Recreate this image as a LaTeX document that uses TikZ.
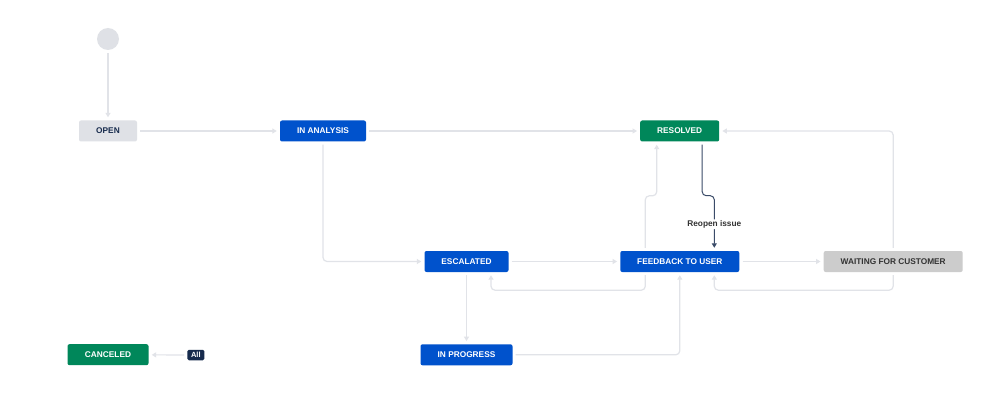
\documentclass[tikz,border=0pt]{standalone}
\usepackage{fontspec}
\setmainfont{Liberation Sans}
\usetikzlibrary{arrows.meta}
\definecolor{jblue}{HTML}{0052CC}
\definecolor{jgreen}{HTML}{00875A}
\definecolor{jlight}{HTML}{DFE1E6}
\definecolor{jgrey}{HTML}{CCCCCC}
\definecolor{jnavy}{HTML}{172B4D}
\definecolor{jtext}{HTML}{333333}
\definecolor{jline}{HTML}{E1E3E8}
\tikzset{
  status/.style={rectangle, rounded corners=2pt, inner sep=0pt, minimum height=21pt,
    font=\fontsize{8.3}{10}\selectfont\bfseries, text=white},
  bluebox/.style={status, fill=jblue},
  greenbox/.style={status, fill=jgreen},
  conn/.style={draw=jline, line width=1.2pt, rounded corners=4pt,
    shorten <=3pt, shorten >=3pt, -{Triangle[width=5pt,length=4.5pt]}},
  darkconn/.style={draw=jnavy!85, line width=1pt, rounded corners=4pt,
    shorten <=3pt, shorten >=3pt, -{Triangle[width=5pt,length=4.5pt]}},
  lbl/.style={fill=white, inner sep=1pt, text=jtext, font=\fontsize{8.3}{10}\selectfont\bfseries}
}
\begin{document}
\begin{tikzpicture}[x=1pt,y=-1pt]
\useasboundingbox[fill=white] (0,0) rectangle (999,401);
% nodes
\node[circle, fill=jlight, minimum size=22pt, inner sep=0pt] (init) at (108,39) {};
\node[status, fill=jlight, text=jnavy, minimum width=58pt] (open) at (108,131) {OPEN};
\node[bluebox, minimum width=86pt] (analysis) at (323,131) {IN ANALYSIS};
\node[greenbox, minimum width=79pt] (resolved) at (679.7,131) {RESOLVED};
\node[bluebox, minimum width=84pt] (escalated) at (466.5,261.5) {ESCALATED};
\node[bluebox, minimum width=119pt] (feedback) at (679.8,261.5) {FEEDBACK TO USER};
\node[status, fill=jgrey, text=jtext, minimum width=139pt] (waiting) at (893.2,261.5) {WAITING FOR CUSTOMER};
\node[bluebox, minimum width=92pt] (progress) at (466.5,354.8) {IN PROGRESS};
\node[greenbox, minimum width=81pt] (canceled) at (108,354.7) {CANCELED};
\node[rectangle, rounded corners=1.5pt, fill=jnavy, text=white, inner sep=0pt,
  minimum width=17pt, minimum height=10.5pt, font=\fontsize{7.5}{9}\selectfont\bfseries] (all) at (195.8,355) {All};
% connectors
\draw[conn] (init) -- (open);
\draw[conn] (open) -- (analysis);
\draw[conn] (analysis) -- (resolved);
\draw[conn] (analysis.south) |- (escalated.west);
\draw[conn] (escalated) -- (feedback);
\draw[conn] (escalated) -- (progress);
\draw[conn] ([xshift=-34.5pt]feedback.south) -- ++(0,18) -| ([xshift=24.5pt]escalated.south);
\draw[conn] (progress.east) -| (feedback.south);
\draw[conn] ([xshift=-34.5pt]feedback.north) -- ++(0,-55) -| ([xshift=-23pt]resolved.south);
\draw[conn] (feedback) -- (waiting);
\draw[conn] (waiting.south) -- ++(0,18) -| ([xshift=34.5pt]feedback.south);
\draw[conn] (waiting.north) |- (resolved.east);
\draw[conn] (all) -- (canceled);
\draw[darkconn] ([xshift=22.5pt]resolved.south) -- ++(0,54) -| ([xshift=34.5pt]feedback.north)
  node[lbl, pos=0.76] (reopen) {Reopen issue};
\end{tikzpicture}
\end{document}
